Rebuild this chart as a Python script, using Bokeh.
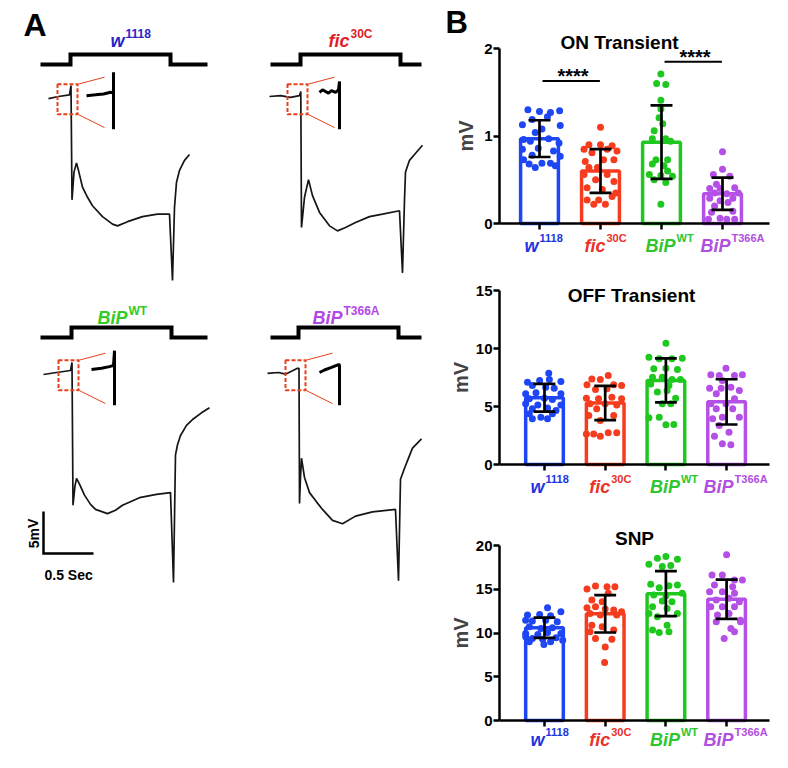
from bokeh.plotting import figure
from bokeh.layouts import row, column
from bokeh.models import Range1d, FixedTicker
from bokeh.core.properties import value
from bokeh.embed import file_html
from bokeh.resources import INLINE

FONT = "Liberation Sans"

# ---------------- Panel A data: ERG traces (s from light onset, mV from baseline) ----------------
light_on = 0.0
light_off = 1.0

w1118_t = [-0.22, -0.12, -0.01, 0.005, 0.015, 0.035, 0.06, 0.08, 0.12, 0.17, 0.22, 0.32, 0.42, 0.47,
           0.57, 0.72, 0.87, 0.99, 1.02, 1.04, 1.06, 1.09, 1.14, 1.19]
w1118_mv = [-0.25, 0.0, 0.2, 1.3, -12.3, -9.0, -7.9, -8.8, -10.8, -12.0, -13.0, -14.3, -15.2, -15.4,
            -14.9, -14.3, -14.0, -14.0, -21.9, -13.2, -10.2, -8.8, -7.6, -6.9]

fic_t = [-0.31, -0.2, -0.1, -0.01, 0.003, 0.01, 0.04, 0.08, 0.12, 0.19, 0.29, 0.37, 0.45, 0.55,
         0.69, 0.82, 0.99, 1.02, 1.04, 1.05, 1.09, 1.14, 1.22]
fic_mv = [0.0, 0.1, -0.1, 0.1, 0.6, -15.6, -12.0, -9.9, -11.8, -13.8, -15.4, -16.0, -15.6, -15.0,
          -14.3, -14.0, -13.6, -21.0, -12.3, -9.0, -7.6, -6.9, -5.8]

bipwt_t = [-0.28, -0.15, -0.01, 0.005, 0.015, 0.035, 0.05, 0.08, 0.13, 0.19, 0.24, 0.36, 0.44, 0.51,
           0.68, 0.85, 0.99, 1.02, 1.04, 1.06, 1.09, 1.15, 1.21, 1.30, 1.38]
bipwt_mv = [-0.24, 0.0, 0.24, 1.2, -15.8, -13.5, -12.6, -13.3, -14.6, -15.7, -16.3, -16.8, -16.4, -15.8,
            -14.9, -14.5, -14.3, -25.0, -9.8, -8.6, -7.5, -6.3, -5.6, -4.8, -4.2]

bipt_t = [-0.31, -0.2, -0.13, -0.06, -0.01, 0.005, 0.01, 0.02, 0.03, 0.06, 0.11, 0.18, 0.24, 0.34,
          0.44, 0.57, 0.74, 0.97, 1.00, 1.02, 1.06, 1.10, 1.14, 1.23]
bipt_mv = [-0.1, 0.0, -0.2, 0.2, 0.5, 0.5, -15.6, -12.5, -10.2, -12.5, -14.3, -15.4, -16.3, -17.6,
           -18.0, -17.1, -16.6, -16.3, -24.8, -12.7, -11.4, -10.2, -9.0, -7.9]

# magnified onset (insets)
w1118_zoom_t = [0.16, 0.25, 0.33, 0.40, 0.43, 0.43, 0.43]
w1118_zoom_mv = [0.1, 0.2, 0.3, 0.5, 0.4, 2.9, -3.9]
fic_zoom_t = [0.19, 0.22, 0.25, 0.28, 0.31, 0.35, 0.38, 0.39, 0.39]
fic_zoom_mv = [0.5, 0.8, 0.6, 0.4, 0.7, 0.5, 0.8, 1.8, -3.9]
bipwt_zoom_t = [0.20, 0.30, 0.38, 0.42, 0.43, 0.43]
bipwt_zoom_mv = [0.35, 0.5, 0.7, 0.85, 2.6, -3.9]
bipt_zoom_t = [0.21, 0.26, 0.33, 0.40, 0.41, 0.41]
bipt_zoom_mv = [0.0, 0.3, 0.6, 0.95, 0.9, -3.9]

scale_s = 0.5
scale_mv = 5

# ---------------- Panel B data ----------------
geno_base = ["w", "fic", "BiP", "BiP"]
geno_sup = ["1118", "30C", "WT", "T366A"]

on_mean = [0.97, 0.60, 0.93, 0.34]
on_sd = [0.21, 0.25, 0.42, 0.185]
off_mean = [5.75, 5.30, 7.25, 5.40]
off_sd = [1.20, 1.47, 1.90, 1.95]
snp_mean = [10.6, 12.2, 14.5, 13.85]
snp_sd = [1.15, 2.14, 2.58, 2.24]

on_w1118 = [1.30, 1.28, 1.27, 1.29, 1.19, 1.22, 1.13, 1.12, 1.04, 1.08, 0.96, 0.97, 0.94, 0.92, 0.85, 0.86,
            0.83, 0.78, 0.73, 0.77, 0.68, 0.69, 0.69, 0.64, 0.66]
on_w1118_dx = [-0.19, 0, 0.18, 0.33, -0.12, 0.13, -0.28, 0.34, -0.07, 0.04, -0.26, 0.15, -0.15, 0.32, -0.28,
               -0.02, 0.23, -0.12, -0.26, 0.34, -0.17, 0.04, 0.18, -0.07, 0.26]
on_fic = [1.10, 0.90, 0.90, 0.89, 0.85, 0.85, 0.81, 0.83, 0.71, 0.73, 0.73, 0.64, 0.64, 0.56, 0.56, 0.50,
          0.48, 0.41, 0.39, 0.35, 0.27, 0.27, 0.31, 0.22, 0.22]
on_fic_dx = [0, -0.19, 0, 0.19, -0.27, 0.11, -0.14, 0.27, -0.25, 0.05, 0.22, -0.05, -0.19, -0.27, 0.11,
             -0.08, 0.22, -0.22, 0.03, 0.25, -0.22, -0.03, 0.19, -0.11, 0.08]
on_bipwt = [1.71, 1.60, 1.59, 1.41, 1.31, 1.21, 1.14, 1.06, 0.97, 0.97, 0.94, 0.73, 0.73, 0.68, 0.66, 0.60,
            0.56, 0.55, 0.54, 0.50, 0.47, 0.22]
on_bipwt_dx = [-0.01, -0.08, 0.07, -0.01, -0.01, -0.04, 0.02, -0.12, -0.15, 0.07, 0.15, -0.09, 0.10, -0.15,
               0.04, 0.10, -0.20, -0.01, 0.18, -0.12, 0.07, -0.01]
on_bipt = [0.82, 0.62, 0.56, 0.54, 0.45, 0.40, 0.40, 0.41, 0.35, 0.35, 0.34, 0.29, 0.29, 0.26, 0.24, 0.20,
           0.14, 0.13, 0.06, 0.05, 0.05, 0.05]
on_bipt_dx = [0, 0, -0.15, 0.12, -0.10, -0.21, -0.04, 0.20, 0.26, -0.13, 0.07, -0.21, 0.17, -0.04, 0.09,
              -0.13, 0.17, -0.18, -0.04, 0.07, -0.23, 0.20]

off_w1118 = [7.87, 7.10, 7.24, 7.33, 7.16, 6.81, 6.67, 6.58, 6.09, 6.18, 6.09, 5.66, 5.72, 5.60, 5.23, 5.14,
             5.14, 4.80, 4.86, 4.66, 4.37, 4.37, 4.08, 3.94, 3.94]
off_w1118_dx = [0.07, -0.28, -0.08, 0.08, 0.27, -0.20, 0.02, 0.16, -0.31, -0.14, 0.27, -0.25, 0, 0.13, -0.31,
                -0.11, 0.27, -0.20, 0.05, 0.19, -0.25, 0.13, -0.06, -0.20, 0.05]
off_fic = [7.67, 7.38, 7.33, 6.87, 6.87, 6.81, 6.47, 6.52, 5.72, 5.66, 5.80, 5.66, 5.23, 5.23, 5.14, 4.80,
           4.22, 4.22, 3.79, 2.64, 2.64, 2.73, 2.73, 2.44]
off_fic_dx = [0.05, -0.22, -0.08, -0.30, 0.14, 0.27, -0.16, 0.03, -0.31, -0.11, 0.11, 0.27, -0.25, 0, 0.19,
              -0.14, -0.27, 0.14, -0.08, -0.19, -0.31, 0.05, 0.19, -0.08]
off_bipwt = [10.46, 9.25, 9.11, 9.11, 9.17, 8.25, 8.30, 8.19, 7.53, 7.53, 7.33, 7.33, 6.95, 6.81, 6.24, 6.38,
             5.72, 5.23, 5.23, 4.02, 4.08, 3.42, 3.45]
off_bipwt_dx = [0, -0.28, -0.11, 0.10, 0.27, -0.20, 0, 0.19, -0.22, -0.06, 0.10, 0.24, -0.25, 0.05, -0.14,
                0.02, 0.16, -0.06, 0.08, -0.28, -0.11, 0, 0.13]
off_bipt = [8.30, 7.73, 7.67, 7.67, 7.73, 7.24, 6.58, 6.58, 6.67, 6.38, 6.09, 5.66, 5.23, 5.23, 4.80, 4.80,
            3.94, 4.08, 4.08, 3.36, 2.79, 2.44, 1.78, 1.70]
off_bipt_dx = [-0.01, -0.26, -0.12, 0.13, 0.26, -0.07, -0.28, -0.09, 0.07, 0.21, -0.17, 0.13, -0.26, -0.01,
               -0.17, 0.10, -0.23, -0.07, 0.21, -0.12, 0.04, -0.20, -0.07, 0.07]

snp_w1118 = [12.89, 12.05, 12.12, 11.97, 12.43, 11.47, 11.36, 11.47, 11.28, 10.71, 10.52, 10.59, 9.94, 9.83,
             10.06, 9.94, 9.37, 9.29, 9.45, 8.99, 8.99, 8.68, 9.56, 9.18]
snp_w1118_dx = [0.05, -0.28, -0.08, 0.10, 0.27, -0.31, -0.20, 0.02, 0.21, -0.25, -0.06, 0.13, -0.31, -0.11,
                0.05, 0.27, -0.20, -0.03, 0.19, -0.25, 0.10, -0.01, -0.31, 0.30]
snp_fic = [15.37, 15.30, 15.30, 15.03, 14.53, 13.77, 13.58, 12.89, 13.00, 12.73, 12.62, 12.43, 12.24, 12.05,
           12.05, 10.90, 10.71, 10.33, 10.13, 9.29, 9.37, 8.41, 6.62]
snp_fic_dx = [-0.16, 0.03, 0.16, -0.30, 0.05, -0.22, -0.05, -0.30, -0.16, 0, 0.14, 0.27, -0.25, -0.08, 0.19,
              -0.22, -0.05, 0.14, -0.25, 0.11, -0.16, 0, -0.01]
snp_bipwt = [18.74, 18.55, 18.43, 17.86, 17.59, 17.71, 15.56, 15.41, 15.49, 15.18, 14.34, 14.26, 14.53, 13.65,
             13.58, 13.00, 12.81, 12.24, 12.24, 11.85, 10.90, 10.33, 10.06, 10.13]
snp_bipwt_dx = [0, -0.14, 0.19, -0.28, -0.06, 0.08, -0.25, 0.05, 0.19, -0.11, -0.20, 0, 0.27, -0.06, 0.10,
                -0.22, 0.02, -0.28, 0.19, -0.14, 0.02, -0.22, -0.11, 0.05]
snp_bipt = [18.93, 16.63, 16.63, 16.06, 16.06, 15.49, 15.30, 14.72, 14.72, 14.53, 13.77, 13.96, 13.58, 13.00,
            13.00, 13.00, 12.05, 12.24, 11.28, 11.28, 10.52, 10.13, 9.37, 11.47]
snp_bipt_dx = [0, -0.24, -0.07, 0.13, 0.26, -0.20, 0.10, -0.28, -0.07, 0.13, -0.17, 0.04, 0.21, -0.26, -0.07,
               0.13, -0.15, 0.04, -0.17, 0.23, 0.07, 0.13, -0.04, 0.23]

on_sig_left = [0, 2]
on_sig_right = [1, 3]
on_sig_level = [1.63, 1.85]
on_sig_text = ["****", "****"]

# ---------------- styles ----------------
BAR_COLORS = ["#1E46F5", "#F53C1E", "#1EC81E", "#B450E6"]
LABEL_COLORS = ["#1F35E0", "#E8322A", "#2EC62E", "#B04FE0"]
TITLE_COLORS = ["#2525C8", "#DD1F2A", "#33CC22", "#B347E6"]
BOX_RED = "#E8401C"
PX_PER_S = 100.0
PX_PER_MV = 8.4


def txt(p, x, y, s, size, style, color, align="left", baseline="alphabetic", angle=0.0):
    p.text(x=[x], y=[y], text=[s], angle=angle, text_align=align, text_baseline=baseline,
           text_font=value(FONT), text_font_style=style, text_font_size=size, text_color=color)


# ---------------- Panel A figures ----------------
def trace_fig(q, t, mv, zt, zmv, base, sup, tcolor, extra=None):
    x_lo = (q["left"] - q["onset"]) / PX_PER_S
    x_hi = (q["left"] + q["w"] - q["onset"]) / PX_PER_S
    y_hi = (q["base"] - q["top"]) / PX_PER_MV
    y_lo = (q["base"] - q["top"] - q["h"]) / PX_PER_MV
    p = figure(width=q["w"], height=q["h"], x_range=Range1d(x_lo, x_hi), y_range=Range1d(y_lo, y_hi),
               min_border=0, toolbar_location=None, output_backend="svg",
               x_axis_location=None, y_axis_location=None)
    p.grid.visible = False
    p.outline_line_color = None

    def tx(px):
        return (px - q["onset"]) / PX_PER_S

    def vy(py):
        return (q["base"] - py) / PX_PER_MV

    lo, hi = vy(q["stim_low"]), vy(q["stim_high"])
    p.line([q["stim_start"], light_on, light_on, light_off, light_off, q["stim_end"]],
           [lo, lo, hi, hi, lo, lo], line_width=4, color="black", line_join="miter")
    p.line(t, mv, line_width=1.7, color="#151515")
    p.quad(left=[-0.13], right=[0.07], bottom=[-2.1], top=[1.45], fill_color=None,
           line_color=BOX_RED, line_width=2, line_dash="4 2")
    p.segment(x0=[0.07, 0.07], y0=[1.45, -2.1], x1=[0.34, 0.34], y1=[2.3, -3.7],
              line_color=BOX_RED, line_width=1)
    p.line(zt, zmv, line_width=3, color="black")
    ax, ay = q["title_anchor"]
    txt(p, tx(ax), vy(ay), base, "18px", "bold italic", tcolor, "right")
    txt(p, tx(ax + 1), vy(ay - 7), sup, "12px", "bold", tcolor, "left")
    if extra:
        extra(p, tx, vy)
    return p


def add_A(p, tx, vy):
    txt(p, tx(31), vy(32), "A", "32px", "bold", "black")


def add_scale(p, tx, vy):
    t0, v0 = tx(51), vy(561)
    p.line([t0, t0, t0 + scale_s], [v0 + scale_mv, v0, v0], line_width=2.5, color="black",
           line_join="miter")
    txt(p, tx(49), vy(541), "5mV", "14px", "bold", "black", "center", "bottom", 1.5708)
    txt(p, tx(52), vy(582), "0.5 Sec", "14px", "bold", "black")


qTL = dict(left=8, top=8, w=220, h=292, onset=78, base=104, stim_low=72, stim_high=62,
           stim_start=-0.30, stim_end=1.37, title_anchor=(132, 48))
qTR = dict(left=228, top=8, w=220, h=292, onset=308, base=104, stim_low=72, stim_high=62,
           stim_start=-0.30, stim_end=1.21, title_anchor=(357, 48))
qBL = dict(left=8, top=300, w=220, h=460, onset=79, base=380, stim_low=345, stim_high=335,
           stim_start=-0.31, stim_end=1.36, title_anchor=(135, 325))
qBR = dict(left=228, top=300, w=220, h=460, onset=306, base=380, stim_low=345, stim_high=335,
           stim_start=-0.28, stim_end=1.23, title_anchor=(350, 325))

pTL = trace_fig(qTL, w1118_t, w1118_mv, w1118_zoom_t, w1118_zoom_mv, geno_base[0], geno_sup[0],
                TITLE_COLORS[0], add_A)
pTR = trace_fig(qTR, fic_t, fic_mv, fic_zoom_t, fic_zoom_mv, geno_base[1], geno_sup[1], TITLE_COLORS[1])
pBL = trace_fig(qBL, bipwt_t, bipwt_mv, bipwt_zoom_t, bipwt_zoom_mv, geno_base[2], geno_sup[2],
                TITLE_COLORS[2], add_scale)
pBR = trace_fig(qBR, bipt_t, bipt_mv, bipt_zoom_t, bipt_zoom_mv, geno_base[3], geno_sup[3], TITLE_COLORS[3])


# ---------------- Panel B figures (frame fills the canvas, axes fixed in place) ----------------
def bar_fig(c, means, sds, groups, dxs, title):
    def X(px):
        return (px - c["c0"]) / c["sp"]

    def Y(py):
        return (c["y0"] - py) / c["ppu"]

    p = figure(width=332, height=c["h"],
               x_range=Range1d(X(c["left"]), X(c["left"] + 332)),
               y_range=Range1d(Y(c["top"] + c["h"]), Y(c["top"])),
               min_border=0, toolbar_location=None, output_backend="svg")
    p.outline_line_color = None
    p.grid.visible = False
    xs = [0, 1, 2, 3]
    p.vbar(x=xs, top=means, bottom=0, width=0.62, fill_color="white", line_color=BAR_COLORS,
           line_width=3.5)
    for i in range(4):
        p.scatter(x=[i + d for d in dxs[i]], y=groups[i], size=7, color=BAR_COLORS[i], line_width=0)
    lows = [m - s for m, s in zip(means, sds)]
    highs = [m + s for m, s in zip(means, sds)]
    p.segment(x0=xs, y0=lows, x1=xs, y1=highs, line_width=2.7, color="black")
    p.segment(x0=[x - 0.18 for x in xs], y0=lows, x1=[x + 0.18 for x in xs], y1=lows,
              line_width=2.7, color="black")
    p.segment(x0=[x - 0.18 for x in xs], y0=highs, x1=[x + 0.18 for x in xs], y1=highs,
              line_width=2.7, color="black")

    p.xaxis.fixed_location = 0
    p.xaxis.bounds = (X(507), X(777))
    p.yaxis.fixed_location = X(507)
    p.yaxis.bounds = (0, c["ymax"])
    p.xaxis.ticker = FixedTicker(ticks=xs, minor_ticks=[])
    p.yaxis.ticker = FixedTicker(ticks=c["yticks"], minor_ticks=[])
    for ax in (p.xaxis, p.yaxis):
        ax.axis_line_width = 2.5
        ax.major_tick_line_width = 2.5
        ax.major_tick_out = 6
        ax.major_tick_in = 0
        ax.minor_tick_out = 0
        ax.minor_tick_in = 0
    p.xaxis.major_label_overrides = {0: "", 1: "", 2: "", 3: ""}
    p.yaxis.major_label_text_font = FONT
    p.yaxis.major_label_text_font_style = "bold"
    p.yaxis.major_label_text_font_size = "15px"
    p.yaxis.major_label_text_color = "black"
    p.yaxis.major_label_standoff = 1
    p.yaxis.axis_label = "mV"
    p.yaxis.axis_label_text_font = FONT
    p.yaxis.axis_label_text_font_style = "bold"
    p.yaxis.axis_label_text_font_size = "20px"
    p.yaxis.axis_label_standoff = c["lstand"]

    tx_, ty_ = c["title_px"]
    txt(p, X(tx_), Y(ty_), title, "19px", "bold", "black", "center")
    for i in range(4):
        cx = c["c0"] + i * c["sp"] + c["anchors"][i]
        txt(p, X(cx), Y(c["y0"] + c["lab_dy"]), geno_base[i], "18px", "bold italic",
            LABEL_COLORS[i], "right")
        txt(p, X(cx + 1), Y(c["y0"] + c["lab_dy"] - 8), geno_sup[i], "11px", "bold",
            LABEL_COLORS[i], "left")
    return p, X, Y


cON = dict(left=448, top=8, h=257, c0=547, sp=61.0, y0=231, ppu=87.5, ymax=2, yticks=[0, 1, 2],
           lstand=4, title_px=(627, 50), anchors=[-1, 5, 14, 8], lab_dy=22)
cOFF = dict(left=448, top=265, h=255, c0=552, sp=60.7, y0=472, ppu=11.6, ymax=15, yticks=[0, 5, 10, 15],
            lstand=1, title_px=(639, 303), anchors=[0, 5, 14, 7], lab_dy=22)
cSNP = dict(left=448, top=520, h=240, c0=552, sp=60.7, y0=728, ppu=8.75, ymax=20,
            yticks=[0, 5, 10, 15, 20], lstand=1, title_px=(642, 546), anchors=[0, 5, 14, 7], lab_dy=19)

pON, XON, YON = bar_fig(cON, on_mean, on_sd, [on_w1118, on_fic, on_bipwt, on_bipt],
                        [on_w1118_dx, on_fic_dx, on_bipwt_dx, on_bipt_dx], "ON Transient")
pOFF, _, _ = bar_fig(cOFF, off_mean, off_sd, [off_w1118, off_fic, off_bipwt, off_bipt],
                     [off_w1118_dx, off_fic_dx, off_bipwt_dx, off_bipt_dx], "OFF Transient")
pSNP, _, _ = bar_fig(cSNP, snp_mean, snp_sd, [snp_w1118, snp_fic, snp_bipwt, snp_bipt],
                     [snp_w1118_dx, snp_fic_dx, snp_bipwt_dx, snp_bipt_dx], "SNP")

# significance brackets on ON transient
pON.segment(x0=[a + 0.05 for a in on_sig_left], y0=on_sig_level,
            x1=[b - 0.01 for b in on_sig_right], y1=on_sig_level, line_width=2, color="black")
for a, b, y, s in zip(on_sig_left, on_sig_right, on_sig_level, on_sig_text):
    pON.text(x=[(a + b) / 2 + 0.05], y=[y], text=[s], y_offset=-5, text_align="center",
             text_baseline="alphabetic", text_font=value(FONT), text_font_style="bold",
             text_font_size="20px", text_color="black")

# panel letter B
txt(pON, XON(453), YON(30), "B", "31px", "bold", "black")

layout = row(column(row(pTL, pTR), row(pBL, pBR)), column(pON, pOFF, pSNP))
open("out.html", "w").write(file_html(layout, INLINE))
